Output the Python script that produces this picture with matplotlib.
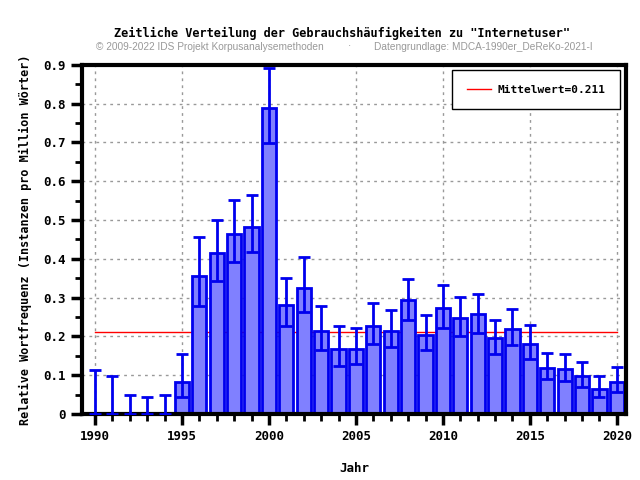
import numpy as np
import matplotlib.pyplot as plt
from matplotlib.ticker import MultipleLocator

# Werte
jahre = list(range(1990, 2021))
werte = [0, 0, 0, 0, 0, 0.0825, 0.356, 0.415, 0.464, 0.482, 0.789,
         0.281, 0.325, 0.214, 0.168, 0.168, 0.227, 0.214, 0.294, 0.204,
         0.273, 0.248, 0.258, 0.196, 0.219, 0.180, 0.119, 0.116, 0.098,
         0.064, 0.0825]
fehler_unten = [0, 0, 0, 0, 0, 0.044, 0.279, 0.343, 0.392, 0.418, 0.699,
                0.227, 0.263, 0.165, 0.124, 0.129, 0.180, 0.173, 0.242, 0.165,
                0.222, 0.201, 0.209, 0.155, 0.178, 0.142, 0.090, 0.085, 0.070,
                0.044, 0.057]
fehler_oben = [0.1135, 0.098, 0.049, 0.044, 0.049, 0.155, 0.456, 0.500, 0.552,
               0.565, 0.892, 0.351, 0.405, 0.278, 0.227, 0.222, 0.286, 0.268,
               0.348, 0.255, 0.333, 0.302, 0.309, 0.242, 0.271, 0.229, 0.157,
               0.155, 0.134, 0.098, 0.121]
mittelwert = 0.211

mono = 'DejaVu Sans Mono'

fig = plt.figure(figsize=(6.4, 4.8), dpi=100)
ax = fig.add_axes([0.128, 0.1375, 0.850, 0.7275])

w = np.array(werte)
yerr = [w - np.array(fehler_unten), np.array(fehler_oben) - w]

# Mittelwert-Linie liegt hinter den Balken
ax.plot([1990, 2020], [mittelwert, mittelwert], color='red', linewidth=1,
        label='Mittelwert=0.211', zorder=1.5)
ax.bar(jahre, werte, width=0.82, color='#8080ff', edgecolor='#0000ee',
       linewidth=2, zorder=2)
ax.errorbar(jahre, werte, yerr=yerr, fmt='none', ecolor='#0000ee',
            elinewidth=2, capsize=4, capthick=2, zorder=3)

ax.set_xlim(1989.25, 2020.52)
ax.set_ylim(0, 0.9)
ax.xaxis.set_major_locator(MultipleLocator(5))
ax.xaxis.set_minor_locator(MultipleLocator(1))
ax.yaxis.set_major_locator(MultipleLocator(0.1))
ax.yaxis.set_minor_locator(MultipleLocator(0.05))
ax.grid(True, which='major', linestyle=(0, (2, 3)), color='#999999',
        linewidth=1, zorder=0)
ax.set_axisbelow(True)

ax.tick_params(which='major', direction='out', length=8, width=2.5,
               labelsize=9)
ax.tick_params(which='minor', direction='out', length=5, width=2)
ax.set_yticklabels([f'{v:.1f}' if v > 0 else '0' for v in ax.get_yticks()])
for lab in ax.get_xticklabels() + ax.get_yticklabels():
    lab.set_family(mono)
    lab.set_weight('bold')

for s in ax.spines.values():
    s.set_linewidth(3)

ax.set_xlabel('Jahr', family=mono, weight='bold', fontsize=9, labelpad=14)
ax.set_ylabel('Relative Wortfrequenz (Instanzen pro Million Wörter)',
              family=mono, weight='bold', fontsize=8.5, labelpad=8)

fig.text(0.535, 0.931, 'Zeitliche Verteilung der Gebrauchshäufigkeiten zu "Internetuser"',
         ha='center', va='center', family=mono, weight='bold', fontsize=8.6)
fig.text(0.150, 0.903, '© 2009-2022 IDS Projekt Korpusanalysemethoden',
         ha='left', va='center', color='#999999', fontsize=7.3, family='Liberation Sans')
fig.text(0.585, 0.903, 'Datengrundlage: MDCA-1990er_DeReKo-2021-I',
         ha='left', va='center', color='#999999', fontsize=7.3, family='Liberation Sans')
fig.text(0.546, 0.903, '·', ha='center', va='center', color='#999999', fontsize=7.3)

leg = ax.legend(loc='upper right', prop={'family': mono, 'weight': 'bold', 'size': 8},
                fancybox=False, framealpha=1, edgecolor='black',
                borderpad=1.3, handlelength=2.2, handletextpad=0.6,
                borderaxespad=0.5)
leg.get_frame().set_linewidth(1)

fig.savefig('out.png', dpi=100)
